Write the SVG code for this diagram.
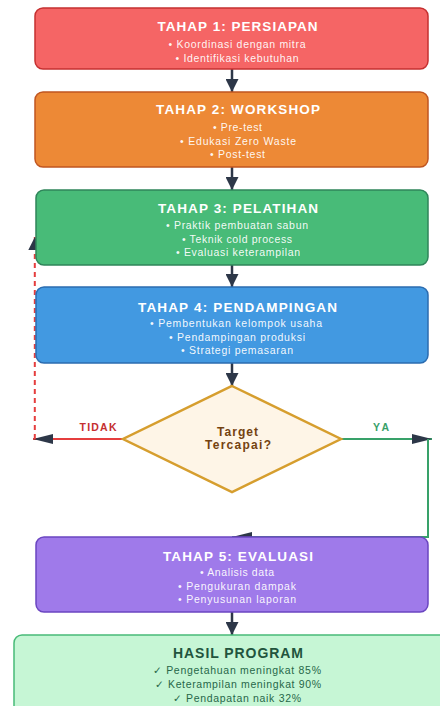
<svg xmlns="http://www.w3.org/2000/svg" width="440" height="706" viewBox="0 0 440 706">
<style>
text{font-family:"Liberation Sans","DejaVu Sans",Arial,sans-serif;text-anchor:middle}
.t{font-size:13.5px;font-weight:bold;fill:#ffffff}
.b{font-size:10.5px;fill:#ffffff;fill-opacity:0.95}
.box{stroke-width:1.5}
.dn{stroke:#2d3748;stroke-width:2.5;fill:none}
.dt{font-size:12px;font-weight:bold;fill:#744210}
.lbl{font-size:10.5px;font-weight:bold}
.ht{font-size:14px;font-weight:bold;fill:#22543d}
.hi{font-size:10.5px;fill:#276749}
</style>
<defs>
<marker id="aV" markerUnits="userSpaceOnUse" markerWidth="13" markerHeight="13" refX="13" refY="6.5" orient="auto"><path d="M0,0 L13,6.5 L0,13 z" fill="#2d3748"/></marker>
<marker id="aH" markerUnits="userSpaceOnUse" markerWidth="20" markerHeight="10" refX="20" refY="5" orient="auto"><path d="M0,0 L20,5 L0,10 z" fill="#2d3748"/></marker>
</defs>
<g id="connectors">
<line class="dn" x1="232" y1="69" x2="232" y2="92" marker-end="url(#aV)"/>
<line class="dn" x1="232" y1="167" x2="232" y2="190" marker-end="url(#aV)"/>
<line class="dn" x1="232" y1="265" x2="232" y2="287" marker-end="url(#aV)"/>
<line class="dn" x1="232" y1="363" x2="232" y2="386" marker-end="url(#aV)"/>
<line class="dn" x1="232" y1="612" x2="232" y2="635" marker-end="url(#aV)"/>
<path d="M123,439 L33,439" stroke="#e53e3e" stroke-width="2" fill="none" marker-end="url(#aH)"/>
<path d="M34.8,439 L34.8,237" stroke="#e53e3e" stroke-width="2" stroke-dasharray="5,4" fill="none" marker-end="url(#aV)"/>
<path d="M341,439 L432,439" stroke="#38a169" stroke-width="2" fill="none" marker-end="url(#aH)"/>
<path d="M428,439 L428,537 L232,537" stroke="#38a169" stroke-width="2" fill="none" marker-end="url(#aH)"/>
<text class="lbl" x="98" y="431" fill="#c53030" textLength="37" lengthAdjust="spacing">TIDAK</text>
<text class="lbl" x="381" y="431" fill="#38a169" textLength="16" lengthAdjust="spacing">YA</text>
</g>
<g id="tahap1">
<rect class="box" x="35" y="8" width="393" height="61" rx="8" fill="#f56565" stroke="#c53030"/>
<text class="t" x="237.5" y="31" textLength="160" lengthAdjust="spacing">TAHAP 1: PERSIAPAN</text>
<text class="b" x="237" y="48" textLength="137" lengthAdjust="spacing">• Koordinasi dengan mitra</text>
<text class="b" x="237" y="62" textLength="123" lengthAdjust="spacing">• Identifikasi kebutuhan</text>
</g>
<g id="tahap2">
<rect class="box" x="35" y="92" width="393" height="75" rx="8" fill="#ed8936" stroke="#c05621"/>
<text class="t" x="238" y="114" textLength="164" lengthAdjust="spacing">TAHAP 2: WORKSHOP</text>
<text class="b" x="237.5" y="131" textLength="49" lengthAdjust="spacing">• Pre-test</text>
<text class="b" x="238" y="145" textLength="116" lengthAdjust="spacing">• Edukasi Zero Waste</text>
<text class="b" x="237.5" y="158" textLength="55" lengthAdjust="spacing">• Post-test</text>
</g>
<g id="tahap3">
<rect class="box" x="36" y="190" width="392" height="75" rx="8" fill="#48bb78" stroke="#2f855a"/>
<text class="t" x="238" y="213" textLength="160" lengthAdjust="spacing">TAHAP 3: PELATIHAN</text>
<text class="b" x="237" y="229" textLength="142" lengthAdjust="spacing">• Praktik pembuatan sabun</text>
<text class="b" x="237" y="243" textLength="110" lengthAdjust="spacing">• Teknik cold process</text>
<text class="b" x="238" y="256" textLength="124" lengthAdjust="spacing">• Evaluasi keterampilan</text>
</g>
<g id="tahap4">
<rect class="box" x="36" y="287" width="392" height="76" rx="8" fill="#4299e1" stroke="#2b6cb0"/>
<text class="t" x="237.5" y="312" textLength="199" lengthAdjust="spacing">TAHAP 4: PENDAMPINGAN</text>
<text class="b" x="236" y="327" textLength="172" lengthAdjust="spacing">• Pembentukan kelompok usaha</text>
<text class="b" x="237" y="341" textLength="136" lengthAdjust="spacing">• Pendampingan produksi</text>
<text class="b" x="237" y="354" textLength="112" lengthAdjust="spacing">• Strategi pemasaran</text>
</g>
<g id="keputusan">
<polygon points="232,386 341,439 232,492 123,439" fill="#fef5e7" stroke="#d69e2e" stroke-width="2.5"/>
<text class="dt" x="237.5" y="436" textLength="41" lengthAdjust="spacing">Target</text>
<text class="dt" x="238" y="449" textLength="66" lengthAdjust="spacing">Tercapai?</text>
</g>
<g id="tahap5">
<rect class="box" x="36" y="537" width="392" height="75" rx="8" fill="#9f7aea" stroke="#6b46c1"/>
<text class="t" x="238" y="561" textLength="150" lengthAdjust="spacing">TAHAP 5: EVALUASI</text>
<text class="b" x="237" y="576" textLength="74" lengthAdjust="spacing">• Analisis data</text>
<text class="b" x="237" y="590" textLength="118" lengthAdjust="spacing">• Pengukuran dampak</text>
<text class="b" x="237" y="603" textLength="118" lengthAdjust="spacing">• Penyusunan laporan</text>
</g>
<g id="hasil">
<rect x="14" y="635" width="440" height="90" rx="8" fill="#c6f6d5" stroke="#48bb78" stroke-width="1.5"/>
<text class="ht" x="238" y="658" textLength="130" lengthAdjust="spacing">HASIL PROGRAM</text>
<text class="hi" x="237" y="674" textLength="168" lengthAdjust="spacing">✓ Pengetahuan meningkat 85%</text>
<text class="hi" x="238" y="688" textLength="166" lengthAdjust="spacing">✓ Keterampilan meningkat 90%</text>
<text class="hi" x="237" y="702" textLength="128" lengthAdjust="spacing">✓ Pendapatan naik 32%</text>
</g>
</svg>
